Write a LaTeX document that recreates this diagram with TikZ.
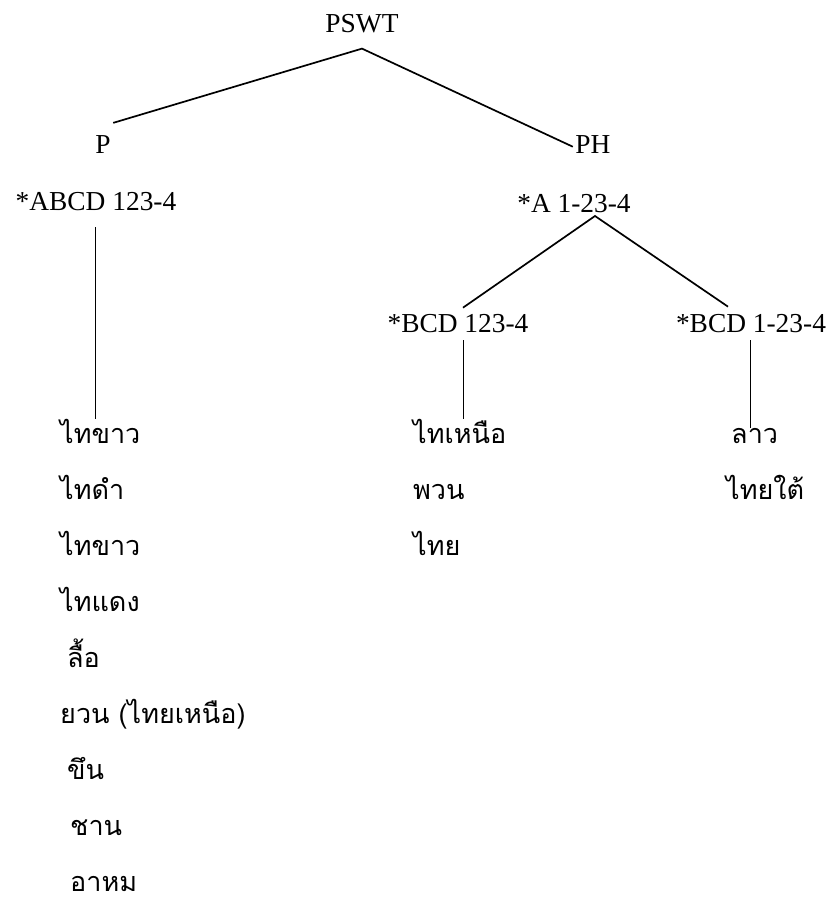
\documentclass[tikz,border=0pt]{standalone}
\usepackage{fontspec}
\setmainfont{Liberation Serif}
\newfontfamily\thaifont[Script=Thai]{Loma}
\begin{document}
\begin{tikzpicture}[x=1pt,y=-1pt,
  lab/.style={inner sep=0pt,anchor=base,font=\fontsize{27.4}{30}\selectfont},
  thai/.style={inner sep=0pt,anchor=base west,font=\fontsize{27}{30}\thaifont},
  branch/.style={line width=1.7pt},
  stem/.style={line width=0.9pt}]
\useasboundingbox[fill=white] (0,0) rectangle (833,903);
% tree labels
\node[lab] (pswt) at (362,32) {PSWT};
\node[lab] (p) at (103,153) {P};
\node[lab] (ph) at (593,153) {PH};
\node[lab] (abcd) at (96,210) {*ABCD 123-4};
\node[lab] (a) at (574,212) {*A 1-23-4};
\node[lab] (bl) at (458,332) {*BCD 123-4};
\node[lab] (br) at (751,332) {*BCD 1-23-4};
% Thai lists
\node[thai] (l1) at (60,443) {ไทขาว};
\node[thai] (l2) at (60,499) {ไทดำ};
\node[thai] (l3) at (60,555) {ไทขาว};
\node[thai] (l4) at (60,611) {ไทแดง};
\node[thai] (l5) at (67,667) {ลื้อ};
\node[thai] (l6) at (60,723) {ยวน (ไทยเหนือ)};
\node[thai] (l7) at (67,779) {ขึน};
\node[thai] (l8) at (70,835) {ชาน};
\node[thai] (l9) at (70,891) {อาหม};
\node[thai] (m1) at (413,443) {ไทเหนือ};
\node[thai] (m2) at (413,499) {พวน};
\node[thai] (m3) at (413,555) {ไทย};
\node[thai] (r1) at (731,443) {ลาว};
\node[thai] (r2) at (726,499) {ไทยใต้};
% branches
\draw[branch] ([xshift=2.4pt,yshift=12pt]p.north east) -- ([yshift=-16pt]pswt.south)
  -- ([xshift=-2.5pt,yshift=4pt]ph.mid west);
\draw[branch] ([xshift=5pt,yshift=6pt]bl.north) -- ([xshift=21pt,yshift=-4pt]a.base)
  -- ([xshift=-23pt,yshift=7pt]br.north);
% stems
\coordinate (s1) at ([xshift=-1pt,yshift=-17pt]abcd.base);
\coordinate (s2) at ([xshift=5pt,yshift=-8pt]bl.base);
\coordinate (s3) at ([xshift=-1pt,yshift=-8pt]br.base);
\draw[stem] (s1) -- (s1 |- l1.north);
\draw[stem] (s2) -- (s2 |- m1.north);
\draw[stem] (s3) -- (s3 |- r1.north);
\end{tikzpicture}
\end{document}
